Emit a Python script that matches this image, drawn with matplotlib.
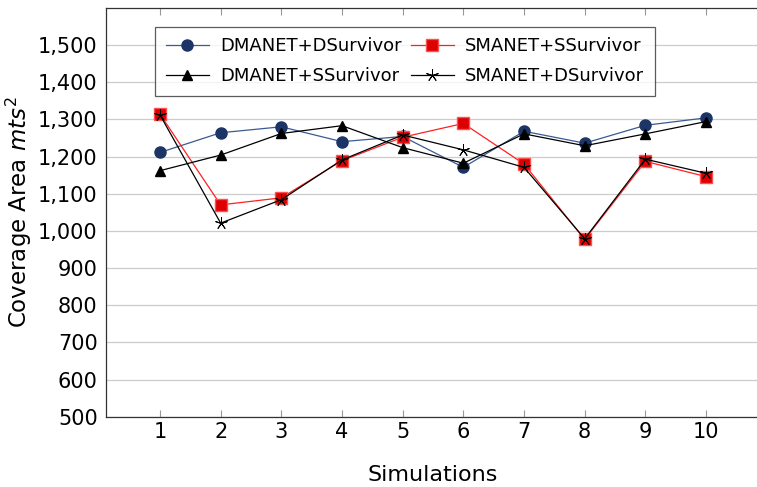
import matplotlib
matplotlib.use("Agg")
import matplotlib.pyplot as plt

plt.rcParams['font.family'] = ['DejaVu Sans']
plt.rcParams['mathtext.fontset'] = 'dejavusans'

simulations = [1, 2, 3, 4, 5, 6, 7, 8, 9, 10]

dmanet_dsurv = [1211, 1264, 1280, 1240, 1254, 1171, 1268, 1236, 1284, 1304]
smanet_ssurv = [1314, 1070, 1089, 1189, 1252, 1289, 1180, 977, 1187, 1146]
dmanet_ssurv = [1162, 1204, 1262, 1283, 1224, 1182, 1261, 1229, 1261, 1294]
smanet_dsurv = [1312, 1021, 1084, 1191, 1258, 1218, 1171, 979, 1193, 1155]

y_ticks = [500, 600, 700, 800, 900, 1000, 1100, 1200, 1300, 1400, 1500]

fig = plt.figure(figsize=(7.57, 4.87), dpi=100)
ax = fig.add_axes([0.140, 0.144, 0.864, 0.840])

l1, = ax.plot(simulations, dmanet_dsurv, color='#3a5a92', lw=0.9,
              marker='o', ms=8, mfc='#1c3567', mec='#1c3567')
l2, = ax.plot(simulations, smanet_ssurv, color='#ff2020', lw=0.9,
              marker='s', ms=8, mfc='#dd0000', mec='#ff5050')
l3, = ax.plot(simulations, dmanet_ssurv, color='black', lw=0.9,
              marker='^', ms=7.5, mfc='black', mec='black')
l4, = ax.plot(simulations, smanet_dsurv, color='black', lw=0.9,
              marker=(5, 2, 0), ms=9, mec='black', mew=0.7)

ax.set_xlim(0.11, 10.89)
ax.set_ylim(500, 1600)
ax.set_xticks(simulations)
ax.set_yticks(y_ticks)
ax.set_yticklabels(['{:,}'.format(v) for v in y_ticks])
ax.yaxis.grid(True, color='#cccccc', lw=0.9)
ax.set_axisbelow(True)
ax.tick_params(axis='both', direction='in', labelsize=15, colors='#999999',
               labelcolor='black', top=True, right=False, length=5)
ax.tick_params(axis='y', length=0, pad=6)
for s in ax.spines.values():
    s.set_color('#333333')
    s.set_linewidth(0.9)

ax.set_xlabel('Simulations', fontsize=16, labelpad=17)
ax.set_ylabel('Coverage Area $mts^2$', fontsize=16.5, labelpad=3)

leg = ax.legend([l1, l3, l2, l4],
                ['DMANET+DSurvivor', 'DMANET+SSurvivor',
                 'SMANET+SSurvivor', 'SMANET+DSurvivor'],
                ncol=2, loc='upper center', bbox_to_anchor=(0.457, 0.976),
                fontsize=13, frameon=True, fancybox=False, edgecolor='#333333',
                handlelength=2.4, columnspacing=0.5, handletextpad=0.6,
                labelspacing=0.65, borderpad=0.6)
leg.get_frame().set_linewidth(0.9)

fig.savefig('out.png', dpi=100)
